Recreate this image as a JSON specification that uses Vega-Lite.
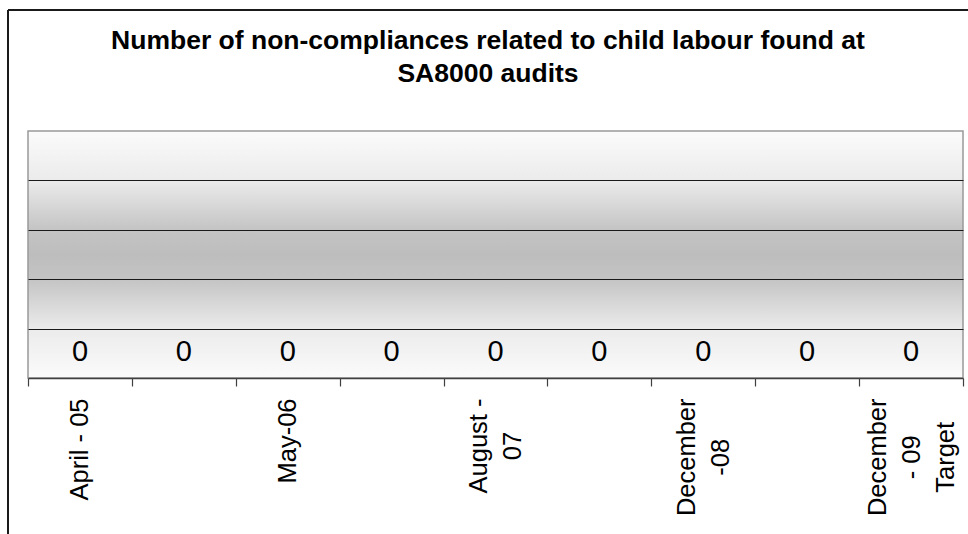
{
  "$schema": "https://vega.github.io/schema/vega-lite/v6.json",
  "width": 960,
  "height": 524,
  "autosize": "none",
  "padding": {"left": 8, "top": 10, "right": 0, "bottom": 0},
  "background": "white",
  "title": {
    "text": ["Number of non-compliances related to child labour found at", "SA8000 audits"],
    "font": "Liberation Sans",
    "fontSize": 26.5,
    "fontWeight": "bold",
    "color": "black",
    "anchor": "middle",
    "frame": "group",
    "offset": -77,
    "lineHeight": 33
  },
  "config": {
    "view": {
      "stroke": "#1a1a1a",
      "strokeWidth": 2,
      "strokeDash": [960, 1484, 524, 0],
      "fill": "white"
    }
  },
  "data": {
    "values": [
      {"period": "April - 05", "count": 0},
      {"period": "November - 05", "count": 0},
      {"period": "May-06", "count": 0},
      {"period": "December - 06", "count": 0},
      {"period": "August - 07", "count": 0},
      {"period": "May - 08", "count": 0},
      {"period": "December -08", "count": 0},
      {"period": "June - 09", "count": 0},
      {"period": "December - 09 Target", "count": 0}
    ]
  },
  "layer": [
    {
      "data": {"values": [{}]},
      "mark": {
        "type": "rect",
        "stroke": "#999999",
        "strokeWidth": 1.5,
        "fill": {
          "gradient": "linear",
          "x1": 0, "y1": 0, "x2": 0, "y2": 1,
          "stops": [
            {"offset": 0, "color": "#fbfbfb"},
            {"offset": 0.2, "color": "#ebebeb"},
            {"offset": 0.4, "color": "#c4c4c4"},
            {"offset": 0.5, "color": "#bdbdbd"},
            {"offset": 0.6, "color": "#c4c4c4"},
            {"offset": 0.8, "color": "#ebebeb"},
            {"offset": 1, "color": "#fbfbfb"}
          ]
        }
      },
      "encoding": {
        "x": {"datum": "April - 05", "type": "nominal", "bandPosition": 0},
        "x2": {"datum": "December - 09 Target", "bandPosition": 1},
        "y": {"datum": 0, "type": "quantitative"},
        "y2": {"datum": 5}
      }
    },
    {
      "mark": {"type": "bar", "color": "#9999ff"},
      "encoding": {
        "x": {
          "field": "period",
          "type": "nominal",
          "sort": null,
          "scale": {
            "domain": ["April - 05", "November - 05", "May-06", "December - 06", "August - 07", "May - 08", "December -08", "June - 09", "December - 09 Target"],
            "range": [20, 955],
            "paddingInner": 0,
            "paddingOuter": 0
          },
          "axis": {
            "orient": "bottom",
            "offset": -156,
            "title": null,
            "grid": false,
            "domainColor": "#404040",
            "domainWidth": 1.5,
            "tickColor": "#404040",
            "tickWidth": 1.2,
            "tickSize": 8,
            "tickBand": "extent",
            "labelAngle": -90,
            "labelAlign": "center",
            "labelBaseline": "middle",
            "labelPadding": {
              "condition": [
                {"test": "datum.label === 'April - 05'", "value": 63},
                {"test": "datum.label === 'May-06'", "value": 54.5},
                {"test": "datum.label === 'August - 07'", "value": 59.5}
              ],
              "value": 70.8
            },
            "labelOffset": {
              "condition": [
                {"test": "datum.label === 'December - 09 Target'", "value": -34},
                {"test": "datum.label === 'December -08' || datum.label === 'August - 07'", "value": -17}
              ],
              "value": 0
            },
            "labelFont": "Liberation Sans",
            "labelFontSize": 25.5,
            "labelColor": "black",
            "labelLineHeight": 34,
            "labelOverlap": false,
            "labelBound": false,
            "labelFlush": false,
            "labelLimit": 0,
            "labelExpr": "datum.label === 'August - 07' ? ['August -', '07'] : datum.label === 'December -08' ? ['December', '-08'] : datum.label === 'December - 09 Target' ? ['December', '- 09', 'Target'] : (datum.label === 'April - 05' || datum.label === 'May-06') ? datum.label : ''",
            "zindex": 1
          }
        },
        "y": {
          "field": "count",
          "type": "quantitative",
          "scale": {"domain": [0, 5], "range": [368, 121], "nice": false, "zero": true},
          "axis": {
            "values": [1, 2, 3, 4],
            "grid": true,
            "gridColor": "#1a1a1a",
            "gridWidth": 1,
            "domain": false,
            "ticks": false,
            "labels": false,
            "title": null,
            "zindex": 1
          }
        }
      }
    },
    {
      "mark": {
        "type": "text",
        "font": "Liberation Sans",
        "fontSize": 29,
        "baseline": "alphabetic",
        "dy": -17,
        "color": "black"
      },
      "encoding": {
        "x": {"field": "period", "type": "nominal", "sort": null},
        "y": {"field": "count", "type": "quantitative"},
        "text": {"field": "count", "type": "quantitative"}
      }
    }
  ]
}
